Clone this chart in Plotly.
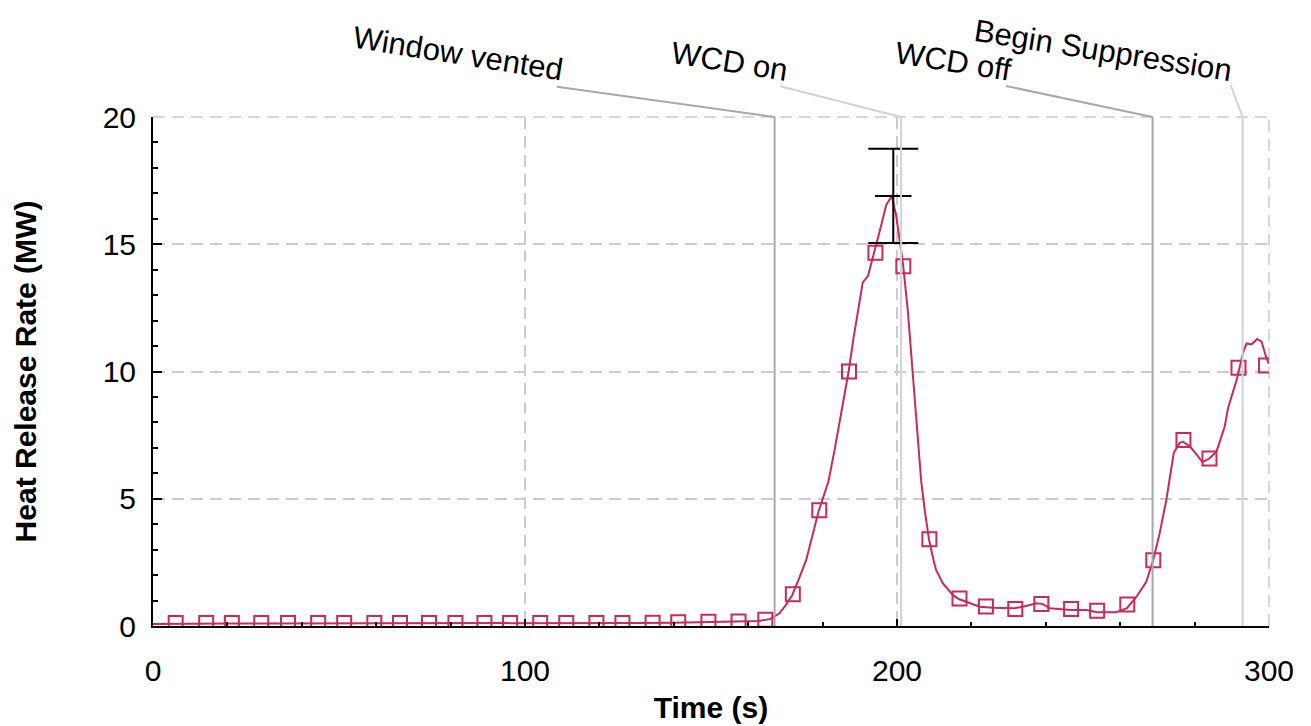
import plotly.graph_objects as go

# Heat release rate curve (time in s, HRR in MW)
line_time = [0, 10, 20, 30, 40, 50, 60, 70, 80, 90, 100, 110, 120, 130, 140, 150, 158,
             163, 166, 168.4, 170, 171.8, 173.5, 175.6, 177.0, 178.9, 180.5, 181.6, 183.2,
             184.6, 186.0, 187.0, 188.3, 189.5, 190.8, 192.2, 194.0, 195.5, 197.1, 198.6,
             199.8, 201.6, 202.9, 204.2, 205.2, 206.5, 207.5, 208.6, 209.8, 210.5, 212.3,
             215.0, 216.6, 219.5, 222.2, 225.8, 231.6, 233.9, 237.5, 239.2, 241.1, 246.7,
             250.9, 253.8, 259.0, 261.8, 264.4, 267.0, 268.8, 270.6, 272.4, 274.4, 276.0,
             276.9, 278.7, 280.5, 282.1, 283.9, 285.9, 288.1, 289.0, 291.3, 293.1, 294.0,
             295.3, 296.8, 298.0, 299.2, 300.0]
line_hrr = [0.08, 0.10, 0.10, 0.10, 0.10, 0.10, 0.10, 0.10, 0.10, 0.10, 0.10, 0.10, 0.11,
            0.12, 0.13, 0.15, 0.17, 0.20, 0.28, 0.50, 0.80, 1.20, 1.80, 2.60, 3.40, 4.50,
            5.20, 5.70, 6.90, 8.10, 9.30, 10.00, 11.30, 12.40, 13.50, 13.75, 14.70, 15.60,
            16.54, 16.90, 16.10, 14.25, 12.40, 10.00, 8.30, 5.70, 4.50, 3.40, 2.60, 2.20,
            1.68, 1.22, 1.06, 0.89, 0.76, 0.72, 0.70, 0.76, 0.89, 0.86, 0.70, 0.63, 0.63,
            0.54, 0.54, 0.70, 1.15, 1.74, 2.55, 3.64, 4.95, 6.80, 7.20, 7.24, 7.06, 6.74,
            6.44, 6.57, 6.86, 7.84, 8.57, 9.67, 10.78, 11.10, 11.06, 11.28, 11.17, 10.58,
            10.30]

# Sampled points shown with square markers
marker_time = [6.1, 14.3, 21.2, 29.1, 36.3, 44.4, 51.4, 59.5, 66.4, 74.2, 81.3, 89.1,
               96.0, 104.1, 111.1, 119.2, 126.2, 134.3, 141.2, 149.3, 157.4, 164.6, 172.0,
               179.1, 187.1, 194.2, 201.7, 208.7, 216.8, 223.9, 231.8, 238.8, 246.8, 253.8,
               261.9, 268.9, 277.0, 284.0, 291.8, 299.2]
marker_hrr = [0.12, 0.12, 0.12, 0.12, 0.12, 0.12, 0.12, 0.12, 0.12, 0.12, 0.12, 0.12,
              0.12, 0.12, 0.12, 0.12, 0.12, 0.13, 0.15, 0.17, 0.18, 0.25, 1.25, 4.55,
              10.0, 14.67, 14.14, 3.41, 1.08, 0.77, 0.67, 0.86, 0.67, 0.60, 0.84, 2.58,
              7.31, 6.58, 10.15, 10.24]

# Peak with its uncertainty
peak_time = [199.0]
peak_hrr = [16.9]
peak_err = [1.85]

# Event markers
event_names = ["Window vented", "WCD on", "WCD off", "Begin Suppression"]
event_time = [167.1, 201.1, 268.7, 292.9]

x_ticks = [0, 100, 200, 300]
y_ticks = [0, 5, 10, 15, 20]

hrr_color = "#c82a5c"
grid_color = "#cccccc"
grid_dash = "12px,7px"
font_family = "Liberation Sans, Arial, sans-serif"

fig = go.Figure()

fig.add_trace(go.Scatter(
    x=line_time, y=line_hrr, mode="lines",
    line=dict(color=hrr_color, width=2), hoverinfo="skip"))

fig.add_trace(go.Scatter(
    x=marker_time, y=marker_hrr, mode="markers",
    marker=dict(symbol="square-open", size=14, color=hrr_color,
                line=dict(color=hrr_color, width=2))))

fig.add_trace(go.Scatter(
    x=peak_time, y=peak_hrr, mode="markers",
    marker=dict(symbol="line-ew", size=26, color="black",
                line=dict(color="black", width=2)),
    error_y=dict(type="data", array=peak_err, color="black", thickness=2, width=25)))

# Dashed grid lines along the top and right edges of the plot area
shapes = [
    dict(type="line", xref="paper", yref="paper", x0=0, x1=1, y0=1, y1=1,
         line=dict(color=grid_color, width=1.5, dash=grid_dash), layer="below"),
    dict(type="line", xref="paper", yref="paper", x0=1, x1=1, y0=0, y1=1,
         line=dict(color=grid_color, width=1.5, dash=grid_dash), layer="below"),
]

# Event lines: vertical at the event time, then a leader up to the label
line_colors = ["#a8a8a8", "#d2d2d2", "#a8a8a8", "#d2d2d2"]
leader_end_x = [108.6, 168.6, 229.3, 289.7]
leader_end_y = [1.0595, 1.0603, 1.0609, 1.0629]
label_x = [81.9, 155.1, 215.3, 255.4]
label_y = [1.125, 1.1086, 1.110, 1.1316]

annotations = []
for i, name in enumerate(event_names):
    shapes.append(dict(type="line", xref="x", yref="y",
                       x0=event_time[i], x1=event_time[i], y0=0, y1=20,
                       line=dict(color=line_colors[i], width=2), layer="above"))
    shapes.append(dict(type="line", xref="x", yref="paper",
                       x0=event_time[i], y0=1, x1=leader_end_x[i], y1=leader_end_y[i],
                       line=dict(color=line_colors[i], width=2)))
    annotations.append(dict(text=name, xref="x", yref="paper",
                            x=label_x[i], y=label_y[i], showarrow=False,
                            xanchor="center", yanchor="middle", textangle=9,
                            font=dict(size=31, color="black", family=font_family)))

grid = dict(showgrid=True, gridcolor=grid_color, gridwidth=1.5, griddash=grid_dash)

fig.update_layout(
    width=1311, height=726,
    margin=dict(l=153, r=42, t=117, b=100),
    paper_bgcolor="white", plot_bgcolor="white",
    showlegend=False,
    font=dict(family=font_family, size=30, color="black"),
    shapes=shapes, annotations=annotations,
    xaxis=dict(range=[0, 300], tickvals=x_ticks, ticks="inside", ticklen=7,
               tickwidth=2, tickcolor="black", showline=True, linecolor="black",
               linewidth=2, zeroline=False, ticklabelstandoff=17, automargin=False,
               minor=dict(dtick=20, ticks="inside", ticklen=4, tickwidth=2,
                          tickcolor="black", showgrid=False),
               title=dict(text="<b>Time (s)</b>", font=dict(size=30), standoff=11),
               **grid),
    yaxis=dict(range=[0, 20], tickvals=y_ticks, ticks="inside", ticklen=9,
               tickwidth=2, tickcolor="black", showline=True, linecolor="black",
               linewidth=2, zeroline=False, ticklabelstandoff=9, automargin=False,
               minor=dict(dtick=1, ticks="inside", ticklen=5, tickwidth=2,
                          tickcolor="black", showgrid=False),
               title=dict(text="<b>Heat Release Rate (MW)</b>", font=dict(size=30),
                          standoff=57),
               **grid),
)

fig.write_html("out.html")
